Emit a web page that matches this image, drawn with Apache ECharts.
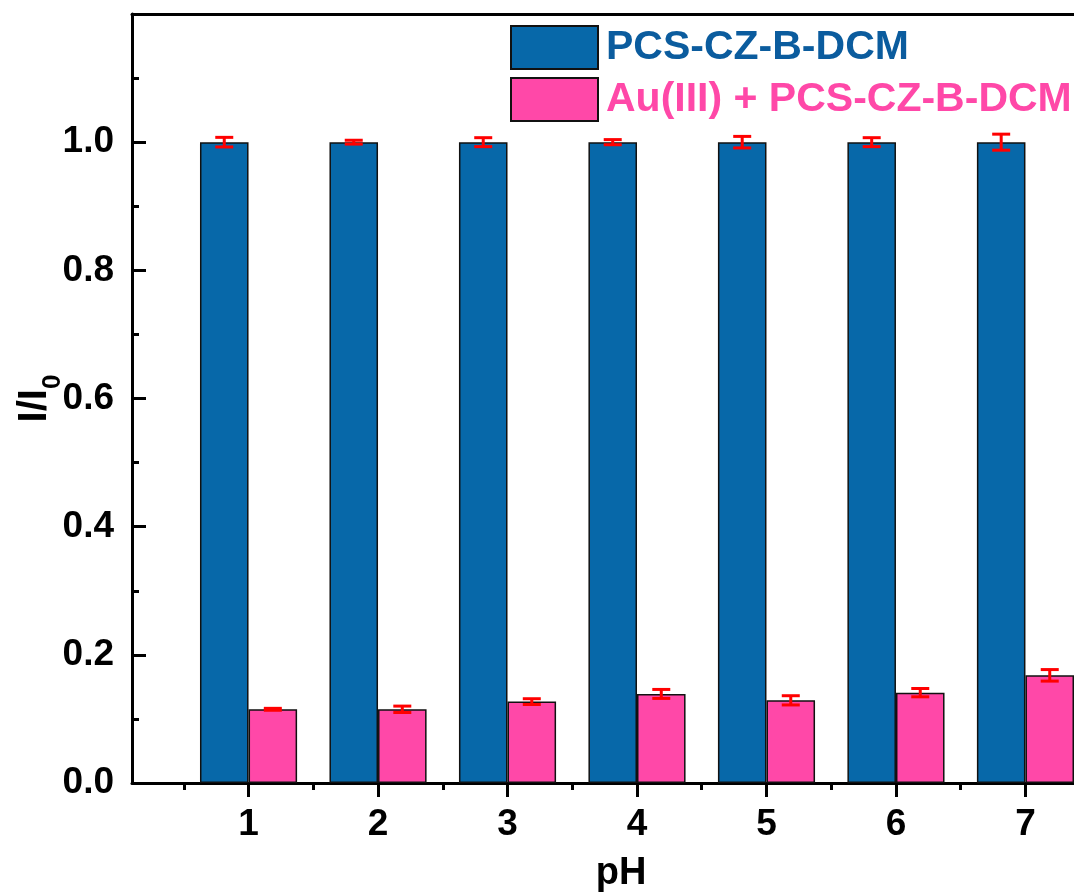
<!DOCTYPE html>
<html>
<head>
<meta charset="utf-8">
<title>I/I0 vs pH</title>
<script src="https://cdn.jsdelivr.net/npm/echarts@6/dist/echarts.min.js"></script>
<style>
  html, body { margin: 0; padding: 0; background: #fff; }
  #chart { width: 1074px; height: 894px; }
</style>
</head>
<body>
<div id="chart"></div>
<script>
// pH values on the horizontal axis
const phValues = [1, 2, 3, 4, 5, 6, 7];
const tickLabels = ['1', '2', '3', '4', '5', '6', '7'];
const minorTickValues = [0.5, 1.5, 2.5, 3.5, 4.5, 5.5, 6.5, 7.5];

// Relative intensity I/I0 and its error for the probe alone
const probeName = 'PCS-CZ-B-DCM';
const probeMean = [1.0, 1.0, 1.0, 1.0, 1.0, 1.0, 1.0];
const probeErr = [0.0075, 0.003, 0.007, 0.004, 0.009, 0.007, 0.0125];

// Relative intensity after adding Au(III)
const auName = 'Au(III) + PCS-CZ-B-DCM';
const auMean = [0.115, 0.115, 0.127, 0.139, 0.129, 0.141, 0.168];
const auErr = [0.0015, 0.005, 0.0045, 0.007, 0.0072, 0.0065, 0.009];

const FONT = '"Liberation Sans", Arial, Helvetica, sans-serif';
const BLUE = '#0768a9';
const PINK = '#ff48a8';
const BAR_FRACTION = 0.375; // bar width as a fraction of one pH unit

const chart = echarts.init(document.getElementById('chart'), null, { renderer: 'canvas' });

function barSeries(name, means, color) {
  return {
    name: name,
    type: 'bar',
    xAxisIndex: 0,
    barWidth: (BAR_FRACTION * 100) + '%',
    barGap: '0%',
    itemStyle: { color: color, borderColor: '#111', borderWidth: 1.5 },
    data: phValues.map((x, i) => [x, means[i]]),
    z: 2
  };
}

// Error bars drawn beside each bar centre (side -1 = left bar, +1 = right bar)
function errorSeries(id, means, errs, side) {
  return {
    id: id,
    type: 'custom',
    xAxisIndex: 0,
    data: phValues.map((x, i) => [x, means[i] - errs[i], means[i] + errs[i]]),
    encode: { x: 0, y: [1, 2] },
    z: 5,
    silent: true,
    renderItem: function (params, api) {
      const x = api.value(0);
      const dx = api.size([BAR_FRACTION / 2, 0])[0] * side;
      const lo = api.coord([x, api.value(1)]);
      const hi = api.coord([x, api.value(2)]);
      const cx = lo[0] + dx;
      const cap = 9;
      const style = { stroke: '#ff0000', lineWidth: 3 };
      return {
        type: 'group',
        children: [
          { type: 'line', shape: { x1: cx, y1: lo[1], x2: cx, y2: hi[1] }, style: style },
          { type: 'line', shape: { x1: cx - cap, y1: lo[1], x2: cx + cap, y2: lo[1] }, style: style },
          { type: 'line', shape: { x1: cx - cap, y1: hi[1], x2: cx + cap, y2: hi[1] }, style: style }
        ]
      };
    }
  };
}

const option = {
  animation: false,
  backgroundColor: '#fff',
  textStyle: { fontFamily: FONT },
  grid: { left: 132, top: 14, width: 1010, height: 769, containLabel: false, outerBoundsMode: 'none' },
  legend: {
    orient: 'vertical',
    left: 510,
    top: 25,
    padding: 0,
    itemWidth: 87,
    itemHeight: 43,
    itemGap: 7,
    icon: 'rect',
    selectedMode: false,
    data: [
      { name: probeName, textStyle: { color: '#0b5c9e' } },
      { name: auName, textStyle: { color: PINK } }
    ],
    textStyle: { fontFamily: FONT, fontSize: 41, lineHeight: 43, fontWeight: 'bold', padding: [0, 0, 0, 3] }
  },
  xAxis: [
    {
      type: 'value',
      min: 0.1,
      max: 7.9,
      position: 'bottom',
      name: 'pH',
      nameLocation: 'middle',
      nameGap: 72,
      nameTextStyle: { fontFamily: FONT, fontSize: 38, fontWeight: 'bold', color: '#000', padding: [0, 32, 0, 0] },
      axisLine: { show: true, onZero: false, lineStyle: { color: '#000', width: 3 } },
      axisTick: { show: true, inside: false, length: 14, lineStyle: { color: '#000', width: 3 }, customValues: phValues },
      axisLabel: {
        show: true, margin: 23, fontFamily: FONT, fontSize: 37, fontWeight: 'bold', color: '#000',
        customValues: phValues,
        formatter: function (v) { return tickLabels[phValues.indexOf(Math.round(v))] || ''; }
      },
      splitLine: { show: false }
    },
    {
      // minor ticks between pH values
      type: 'value',
      min: 0.1,
      max: 7.9,
      position: 'bottom',
      axisLine: { show: false, onZero: false },
      axisTick: { show: true, inside: false, length: 7, lineStyle: { color: '#000', width: 3 }, customValues: minorTickValues },
      axisLabel: { show: false },
      splitLine: { show: false }
    },
    {
      // top frame line
      type: 'value',
      min: 0.1,
      max: 7.9,
      position: 'top',
      axisLine: { show: true, onZero: false, lineStyle: { color: '#000', width: 3 } },
      axisTick: { show: false },
      axisLabel: { show: false },
      splitLine: { show: false }
    }
  ],
  yAxis: {
    type: 'value',
    min: 0,
    max: 1.2,
    interval: 0.2,
    name: 'I/I{sub|0}',
    nameLocation: 'middle',
    nameRotate: 90,
    nameGap: 66,
    nameMoveOverlap: false,
    nameTextStyle: {
      fontFamily: FONT, fontSize: 40, fontWeight: 'bold', color: '#000',
      rich: {
        sub: { fontFamily: FONT, fontSize: 26, fontWeight: 'bold', color: '#000', padding: [36, 0, 0, 0] }
      }
    },
    axisLine: { show: true, onZero: false, lineStyle: { color: '#000', width: 3 } },
    axisTick: { show: true, inside: true, length: 14, lineStyle: { color: '#000', width: 3 } },
    minorTick: { show: true, splitNumber: 2, length: 7, lineStyle: { color: '#000', width: 3 } },
    axisLabel: {
      margin: 18, fontFamily: FONT, fontSize: 37, fontWeight: 'bold', color: '#000',
      formatter: function (v) { return v.toFixed(1); },
      showMaxLabel: false
    },
    splitLine: { show: false },
    minorSplitLine: { show: false }
  },
  series: [
    barSeries(probeName, probeMean, BLUE),
    barSeries(auName, auMean, PINK),
    errorSeries('probe-error', probeMean, probeErr, -1),
    errorSeries('au-error', auMean, auErr, 1)
  ]
};

chart.setOption(option);
</script>
</body>
</html>
